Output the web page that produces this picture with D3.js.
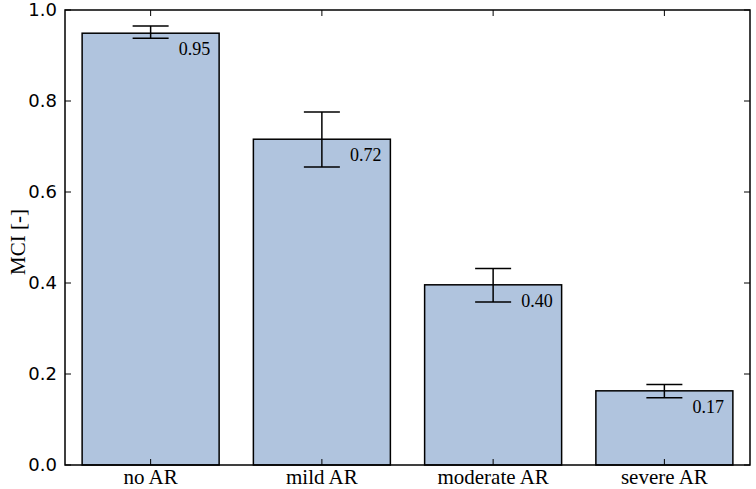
<!DOCTYPE html>
<html>
<head>
<meta charset="utf-8">
<script src="https://cdn.jsdelivr.net/npm/d3@7"></script>
<style>
body { margin: 0; background: #fff; }
svg { display: block; }
</style>
</head>
<body>
<div id="chart"></div>
<script>
var categories = ["no AR", "mild AR", "moderate AR", "severe AR"];
var mci = [0.949, 0.716, 0.396, 0.163];
var err_lo = [0.938, 0.655, 0.358, 0.148];
var err_hi = [0.965, 0.776, 0.432, 0.177];
var value_labels = ["0.95", "0.72", "0.40", "0.17"];
var y_ticks = [0.0, 0.2, 0.4, 0.6, 0.8, 1.0];

var W = 756, H = 489;
var margin = {left: 65, right: 6, top: 10, bottom: 24};

var svg = d3.select("#chart").append("svg")
    .attr("width", W).attr("height", H);

var x = d3.scaleBand().domain(categories)
    .range([margin.left, W - margin.right])
    .paddingInner(0.2).paddingOuter(0.1);
var y = d3.scaleLinear().domain([0, 1])
    .range([H - margin.bottom, margin.top]);

var x0 = margin.left, x1 = W - margin.right;
var y0 = H - margin.bottom, y1 = margin.top;

// bars
svg.selectAll("rect.bar").data(mci).enter().append("rect")
    .attr("class", "bar")
    .attr("x", function(d, i) { return x(categories[i]); })
    .attr("y", function(d) { return y(d); })
    .attr("width", x.bandwidth())
    .attr("height", function(d) { return y(0) - y(d); })
    .attr("fill", "#b0c4de")
    .attr("stroke", "#000")
    .attr("stroke-width", 1.5);

// error bars
var capw = 18;
var eb = svg.selectAll("g.err").data(categories).enter().append("g")
    .attr("class", "err")
    .attr("stroke", "#000").attr("stroke-width", 1.5);
eb.append("line")
    .attr("x1", function(d) { return x(d) + x.bandwidth()/2; })
    .attr("x2", function(d) { return x(d) + x.bandwidth()/2; })
    .attr("y1", function(d, i) { return y(err_lo[i]); })
    .attr("y2", function(d, i) { return y(err_hi[i]); });
eb.append("line")
    .attr("x1", function(d) { return x(d) + x.bandwidth()/2 - capw; })
    .attr("x2", function(d) { return x(d) + x.bandwidth()/2 + capw; })
    .attr("y1", function(d, i) { return y(err_lo[i]); })
    .attr("y2", function(d, i) { return y(err_lo[i]); });
eb.append("line")
    .attr("x1", function(d) { return x(d) + x.bandwidth()/2 - capw; })
    .attr("x2", function(d) { return x(d) + x.bandwidth()/2 + capw; })
    .attr("y1", function(d, i) { return y(err_hi[i]); })
    .attr("y2", function(d, i) { return y(err_hi[i]); });

// value labels
svg.selectAll("text.val").data(value_labels).enter().append("text")
    .attr("class", "val")
    .attr("x", function(d, i) { return x(categories[i]) + x.bandwidth() - 9; })
    .attr("y", function(d, i) { return y(mci[i]) + 22; })
    .attr("text-anchor", "end")
    .attr("font-family", "Liberation Serif, serif")
    .attr("font-size", 18)
    .text(function(d) { return d; });

// frame
svg.append("rect")
    .attr("x", x0).attr("y", y1)
    .attr("width", x1 - x0).attr("height", y0 - y1)
    .attr("fill", "none").attr("stroke", "#000").attr("stroke-width", 1.5);

// y ticks (inward, both sides)
var tk = 6;
y_ticks.forEach(function(t) {
    svg.append("line").attr("x1", x0).attr("x2", x0 + tk)
        .attr("y1", y(t)).attr("y2", y(t)).attr("stroke", "#000");
    svg.append("line").attr("x1", x1).attr("x2", x1 - tk)
        .attr("y1", y(t)).attr("y2", y(t)).attr("stroke", "#000");
});
svg.selectAll("text.ytick").data(y_ticks).enter().append("text")
    .attr("class", "ytick")
    .attr("x", x0 - 8)
    .attr("y", function(d) { return y(d); })
    .attr("dy", "0.36em")
    .attr("text-anchor", "end")
    .attr("font-family", "DejaVu Sans, sans-serif")
    .attr("font-size", 18)
    .text(function(d) { return d.toFixed(1); });

// x ticks (inward, top and bottom)
categories.forEach(function(c) {
    var cx = x(c) + x.bandwidth()/2;
    svg.append("line").attr("x1", cx).attr("x2", cx)
        .attr("y1", y0).attr("y2", y0 - tk).attr("stroke", "#000");
    svg.append("line").attr("x1", cx).attr("x2", cx)
        .attr("y1", y1).attr("y2", y1 + tk).attr("stroke", "#000");
});
svg.selectAll("text.xtick").data(categories).enter().append("text")
    .attr("class", "xtick")
    .attr("x", function(d) { return x(d) + x.bandwidth()/2; })
    .attr("y", y0 + 19)
    .attr("text-anchor", "middle")
    .attr("font-family", "Liberation Serif, serif")
    .attr("font-size", 21)
    .text(function(d) { return d; });

// y label
svg.append("text")
    .attr("transform", "translate(25,242) rotate(-90)")
    .attr("text-anchor", "middle")
    .attr("font-family", "Liberation Serif, serif")
    .attr("font-size", 21)
    .text("MCI [-]");
</script>
</body>
</html>
